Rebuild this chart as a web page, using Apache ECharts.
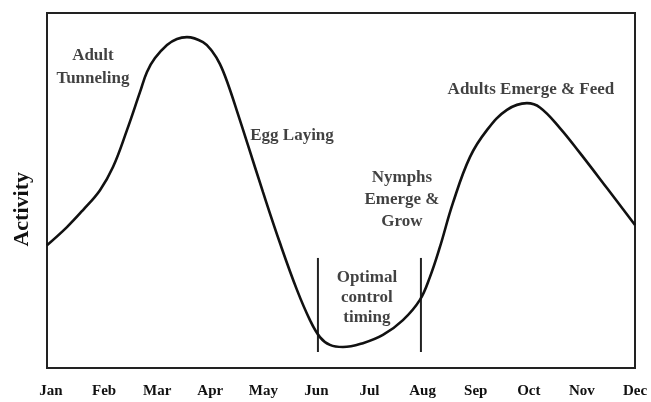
<!DOCTYPE html>
<html>
<head>
<meta charset="utf-8">
<script src="https://cdn.jsdelivr.net/npm/echarts@6/dist/echarts.min.js"></script>
<style>html,body{margin:0;padding:0;background:#fff;}#c{width:651px;height:402px;}</style>
</head>
<body>
<div id="c"></div>
<script>
// Month tick labels (positions 0..11)
var months = ['Jan','Feb','Mar','Apr','May','Jun','Jul','Aug','Sep','Oct','Nov','Dec'];
var monthTicks = [0,1,2,3,4,5,6,7,8,9,10,11];

// Activity curve (x in months from Jan, y activity 0..100)
var curveX = [-0.075,0.301,0.603,0.923,1.168,1.431,1.676,1.808,1.959,2.185,2.373,2.561,2.863,3.032,3.183,3.333,3.522,3.710,3.992,4.313,4.633,4.878,5.066,5.254,5.499,5.876,6.252,6.629,6.949,7.137,7.326,7.571,7.891,8.211,8.588,8.964,9.209,9.586,9.962,10.471,11.0];
var curveY = [34.6,39.7,44.5,50.1,56.6,67.0,77.7,83.4,87.3,91.0,92.7,93.2,91.8,89.3,85.6,80.0,71.5,62.8,49.6,35.2,22.0,13.5,8.7,6.5,5.9,7.0,9.3,13.5,19.2,25.6,34.1,46.5,59.4,67.0,72.7,74.6,73.4,67.6,60.6,50.7,40.3];

// Optimal control window markers
var windowX = [5.028, 6.968];
var windowTop = [31, 31];
var windowBottom = [4.5, 4.5];

// Annotations
var noteText = ['Adult\nTunneling','Egg Laying','Adults Emerge & Feed','Nymphs\nEmerge &\nGrow','Optimal\ncontrol\ntiming'];
var noteX = [0.79, 4.54, 9.04, 6.61, 5.95];
var noteY = [84.8, 65.4, 78.3, 47.3, 19.7];

var FONT = '"Liberation Serif", "Times New Roman", serif';
var noteLineHeights = [23, 20, 20, 22, 20];

var curveData = curveX.map(function(x,i){return [x, curveY[i]];});
var series = [{
  type:'line', data: curveData, smooth: 0.4, symbol:'none', clip:false,
  lineStyle:{color:'#111', width:2.6}, z:3
}];
windowX.forEach(function(x,i){
  series.push({type:'line', data:[[x, windowTop[i]],[x, windowBottom[i]]], symbol:'none',
    lineStyle:{color:'#222', width:2}, z:2});
});
series.push({
  type:'scatter', symbolSize:0, z:4,
  data: noteX.map(function(x,i){return {value:[x, noteY[i]], name: noteText[i], label:{lineHeight: noteLineHeights[i]}};}),
  label:{show:true, position:'inside', formatter:function(p){return p.name;},
    fontFamily:FONT, fontWeight:'bold', fontSize:17, color:'#111', align:'center', verticalAlign:'middle'}
});

var chart = echarts.init(document.getElementById('c'), null, {renderer:'canvas'});
chart.setOption({
  backgroundColor:'#fff',
  animation:false,
  grid:{left:47, right:16, top:13, bottom:34, show:true, borderColor:'#222', borderWidth:2, backgroundColor:'transparent'},
  xAxis:{type:'value', min:-0.075, max:11,
    axisLine:{show:false}, axisTick:{show:false}, splitLine:{show:false},
    axisLabel:{customValues: monthTicks, formatter:function(v){return months[Math.round(v)];},
      fontFamily:FONT, fontWeight:'bold', fontSize:15, color:'#111', margin:16, showMinLabel:true, showMaxLabel:true}
  },
  yAxis:{type:'value', min:0, max:100, axisLine:{show:false}, axisTick:{show:false}, splitLine:{show:false}, axisLabel:{show:false}},
  graphic:[{type:'text', left:11, top:172, rotation:Math.PI/2,
    style:{text:'Activity', fontFamily:FONT, fontWeight:'bold', fontSize:22, fill:'#111'}}],
  series: series
});
</script>
</body>
</html>
